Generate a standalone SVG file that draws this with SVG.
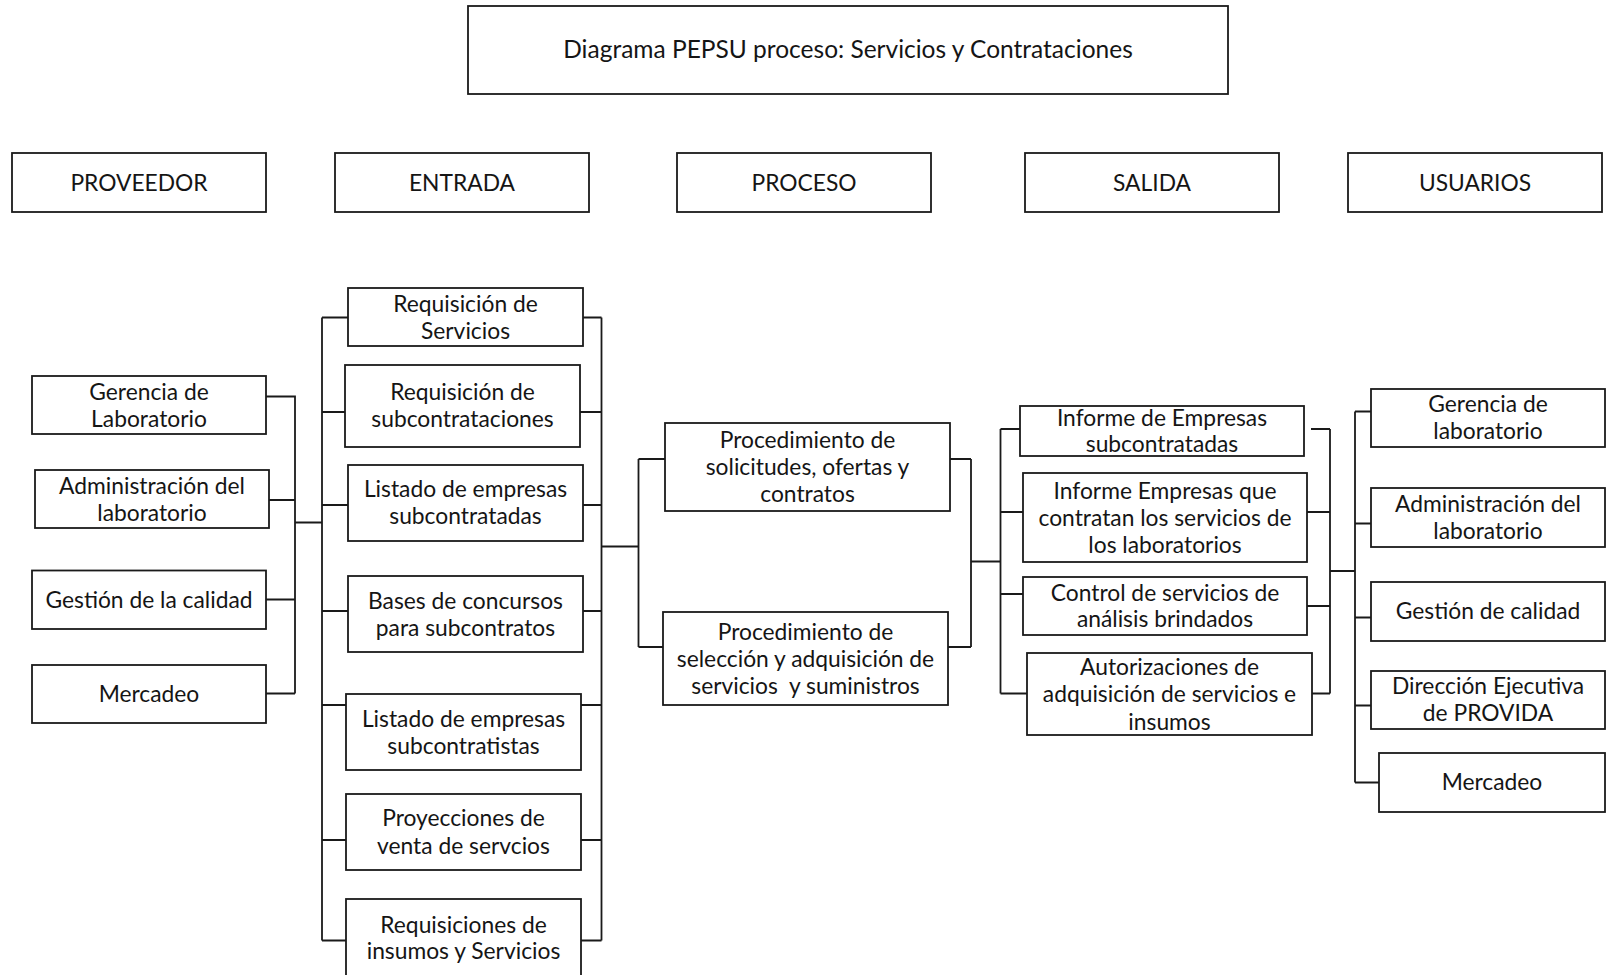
<svg xmlns="http://www.w3.org/2000/svg" width="1606" height="975" viewBox="0 0 1606 975">
  <style>
    .box { fill: #ffffff; stroke: #1a1a1a; stroke-width: 1.8; }
    .wire { fill: none; stroke: #1a1a1a; stroke-width: 1.8; }
    text { font-family: Lato, "Open Sans", "Liberation Sans", sans-serif; fill: #151515; text-anchor: middle; dominant-baseline: central; }
    .t { font-size: 24.5px; }
    .h { font-size: 22.8px; }
    .b { font-size: 22.8px; }
  </style>
  <rect width="1606" height="975" fill="#ffffff"/>

  <!-- title -->
  <g id="title">
    <rect class="box" x="468" y="6" width="760" height="88"/>
    <text class="t" x="848" y="48.5">Diagrama PEPSU proceso: Servicios y Contrataciones</text>
  </g>

  <!-- column headers -->
  <g id="hdr-proveedor"><rect class="box" x="12" y="153" width="254" height="59"/><text class="h" x="139" y="182">PROVEEDOR</text></g>
  <g id="hdr-entrada"><rect class="box" x="335" y="153" width="254" height="59"/><text class="h" x="462" y="182">ENTRADA</text></g>
  <g id="hdr-proceso"><rect class="box" x="677" y="153" width="254" height="59"/><text class="h" x="804" y="182">PROCESO</text></g>
  <g id="hdr-salida"><rect class="box" x="1025" y="153" width="254" height="59"/><text class="h" x="1152" y="182">SALIDA</text></g>
  <g id="hdr-usuarios"><rect class="box" x="1348" y="153" width="254" height="59"/><text class="h" x="1475" y="182">USUARIOS</text></g>

  <!-- connectors -->
  <g id="connectors" class="wire">
    <!-- proveedor bracket -->
    <path d="M266,396.5 H295 V693.5 M269,500 H295 M266,599.5 H295 M266,693.5 H295 M295,522.5 H322"/>
    <!-- entrada brackets -->
    <path d="M322,317.5 V940.5 M322,317.5 H348 M322,412 H345 M322,505 H348 M322,611 H348 M322,705 H348 M322,840 H346 M322,940.5 H346"/>
    <path d="M601.5,317.5 V940.5 M583,317.5 H601.5 M580,412 H601.5 M583,505 H601.5 M583,611 H601.5 M581,705 H601.5 M581,840 H601.5 M579,940.5 H601.5"/>
    <path d="M601.5,546.5 H638.5"/>
    <!-- proceso brackets -->
    <path d="M638.5,459 V647 M638.5,459 H665 M638.5,647 H663"/>
    <path d="M971,459 V647 M950,459 H971 M948,647 H971 M971,561.5 H1000.5"/>
    <!-- salida brackets -->
    <path d="M1000.5,429 V693.5 M1000.5,429 H1020 M1000.5,512 H1023 M1000.5,594 H1023 M1000.5,693.5 H1027"/>
    <path d="M1330,429 V693.5 M1311,429 H1330 M1307,512 H1330 M1307,606 H1330 M1312,693.5 H1330 M1330,571 H1355"/>
    <!-- usuarios bracket -->
    <path d="M1355,411.5 V782.5 M1355,411.5 H1371 M1355,523.5 H1371 M1355,617.5 H1371 M1355,705.5 H1371 M1355,782.5 H1379"/>
  </g>

  <!-- proveedores -->
  <g id="prov-gerencia"><rect class="box" x="32" y="376" width="234" height="58"/><text class="b"><tspan x="149" y="391">Gerencia de</tspan><tspan x="149" y="418">Laboratorio</tspan></text></g>
  <g id="prov-admin"><rect class="box" x="35" y="470" width="234" height="58"/><text class="b"><tspan x="152" y="485">Administración del</tspan><tspan x="152" y="511.5">laboratorio</tspan></text></g>
  <g id="prov-calidad"><rect class="box" x="32" y="570.5" width="234" height="58.5"/><text class="b" x="149" y="599">Gestión de la calidad</text></g>
  <g id="prov-mercadeo"><rect class="box" x="32" y="665" width="234" height="58"/><text class="b" x="149" y="693">Mercadeo</text></g>

  <!-- entradas -->
  <g id="ent-req-servicios"><rect class="box" x="348" y="288" width="235" height="58"/><text class="b"><tspan x="465.5" y="303">Requisición de</tspan><tspan x="465.5" y="329.5">Servicios</tspan></text></g>
  <g id="ent-req-subcontrataciones"><rect class="box" x="345" y="365" width="235" height="82"/><text class="b"><tspan x="462.5" y="391">Requisición de</tspan><tspan x="462.5" y="417.5">subcontrataciones</tspan></text></g>
  <g id="ent-listado-subcontratadas"><rect class="box" x="348" y="465" width="235" height="76"/><text class="b"><tspan x="465.5" y="488">Listado de empresas</tspan><tspan x="465.5" y="514.5">subcontratadas</tspan></text></g>
  <g id="ent-bases"><rect class="box" x="348" y="576" width="235" height="76"/><text class="b"><tspan x="465.5" y="599.5">Bases de concursos</tspan><tspan x="465.5" y="626.5">para subcontratos</tspan></text></g>
  <g id="ent-listado-subcontratistas"><rect class="box" x="346" y="694" width="235" height="76"/><text class="b"><tspan x="463.5" y="717.5">Listado de empresas</tspan><tspan x="463.5" y="744.5">subcontratistas</tspan></text></g>
  <g id="ent-proyecciones"><rect class="box" x="346" y="794" width="235" height="76"/><text class="b"><tspan x="463.5" y="816.5">Proyecciones de</tspan><tspan x="463.5" y="844.5">venta de servcios</tspan></text></g>
  <g id="ent-requisiciones"><rect class="box" x="346" y="899" width="235" height="82"/><text class="b"><tspan x="463.5" y="923.5">Requisiciones de</tspan><tspan x="463.5" y="950">insumos y Servicios</tspan></text></g>

  <!-- procesos -->
  <g id="proc-solicitudes"><rect class="box" x="665" y="423" width="285" height="88"/><text class="b"><tspan x="807.5" y="439">Procedimiento de</tspan><tspan x="807.5" y="466">solicitudes, ofertas y</tspan><tspan x="807.5" y="493">contratos</tspan></text></g>
  <g id="proc-seleccion"><rect class="box" x="663" y="612" width="285" height="93"/><text class="b"><tspan x="805.5" y="631">Procedimiento de</tspan><tspan x="805.5" y="657.5">selección y adquisición de</tspan><tspan x="805.5" y="685" xml:space="preserve">servicios  y suministros</tspan></text></g>

  <!-- salidas -->
  <g id="sal-informe-subcontratadas"><rect class="box" x="1020" y="406" width="284" height="50"/><text class="b"><tspan x="1162" y="416.5">Informe de Empresas</tspan><tspan x="1162" y="443">subcontratadas</tspan></text></g>
  <g id="sal-informe-contratan"><rect class="box" x="1023" y="473" width="284" height="89"/><text class="b"><tspan x="1165" y="490">Informe Empresas que</tspan><tspan x="1165" y="516.5">contratan los servicios de</tspan><tspan x="1165" y="544">los laboratorios</tspan></text></g>
  <g id="sal-control"><rect class="box" x="1023" y="577" width="284" height="58"/><text class="b"><tspan x="1165" y="591.5">Control de servicios de</tspan><tspan x="1165" y="618">análisis brindados</tspan></text></g>
  <g id="sal-autorizaciones"><rect class="box" x="1027" y="653" width="285" height="82"/><text class="b"><tspan x="1169.5" y="666">Autorizaciones de</tspan><tspan x="1169.5" y="693">adquisición de servicios e</tspan><tspan x="1169.5" y="720.5">insumos</tspan></text></g>

  <!-- usuarios -->
  <g id="usr-gerencia"><rect class="box" x="1371" y="389" width="234" height="58"/><text class="b"><tspan x="1488" y="403">Gerencia de</tspan><tspan x="1488" y="430">laboratorio</tspan></text></g>
  <g id="usr-admin"><rect class="box" x="1371" y="488" width="234" height="59"/><text class="b"><tspan x="1488" y="503">Administración del</tspan><tspan x="1488" y="530">laboratorio</tspan></text></g>
  <g id="usr-calidad"><rect class="box" x="1371" y="582" width="234" height="59"/><text class="b" x="1488" y="610">Gestión de calidad</text></g>
  <g id="usr-direccion"><rect class="box" x="1371" y="671" width="234" height="58"/><text class="b"><tspan x="1488" y="685">Dirección Ejecutiva</tspan><tspan x="1488" y="712">de PROVIDA</tspan></text></g>
  <g id="usr-mercadeo"><rect class="box" x="1379" y="753" width="226" height="59"/><text class="b" x="1492" y="781">Mercadeo</text></g>
</svg>
